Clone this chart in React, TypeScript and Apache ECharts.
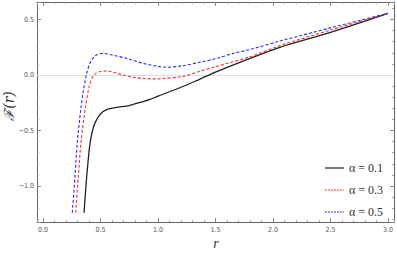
import React, { useEffect, useRef } from "react";
import * as echarts from "echarts";

const rA01 = [0.357, 0.38, 0.409, 0.437, 0.46, 0.485, 0.52, 0.57, 0.65, 0.75, 0.85, 0.93, 1.0, 1.2, 1.365, 1.51, 1.8, 2.06, 2.5, 3.0];
const fA01 = [-1.24, -0.916, -0.615, -0.475, -0.415, -0.37, -0.33, -0.305, -0.29, -0.275, -0.245, -0.22, -0.19, -0.11, -0.036, 0.03, 0.15, 0.25, 0.385, 0.556];

const rA03 = [0.284, 0.307, 0.33, 0.365, 0.40, 0.425, 0.46, 0.50, 0.539, 0.6, 0.68, 0.77, 0.872, 0.95, 1.017, 1.22, 1.365, 1.51, 1.8, 2.06, 2.5, 3.0];
const fA03 = [-1.24, -0.916, -0.615, -0.315, -0.11, -0.03, 0.015, 0.032, 0.036, 0.028, 0.005, -0.018, -0.03, -0.035, -0.033, -0.012, 0.035, 0.078, 0.165, 0.265, 0.405, 0.556];

const rA05 = [0.255, 0.278, 0.298, 0.328, 0.35, 0.38, 0.41, 0.445, 0.48, 0.524, 0.6, 0.728, 0.872, 1.0, 1.08, 1.22, 1.365, 1.51, 1.655, 1.8, 2.06, 2.5, 3.0];
const fA05 = [-1.24, -0.916, -0.615, -0.315, -0.15, 0.015, 0.11, 0.165, 0.188, 0.195, 0.18, 0.15, 0.105, 0.078, 0.07, 0.085, 0.115, 0.15, 0.195, 0.23, 0.306, 0.425, 0.556];

const legendNames = ["α = 0.1", "α = 0.3", "α = 0.5"];

const zip = (xs: number[], ys: number[]) => xs.map((x, i) => [x, ys[i]]);

const tickFont = {
  fontFamily: "DejaVu Sans Condensed, DejaVu Sans",
  fontSize: 7,
  color: "#555555",
};

export default function App() {
  const ref = useRef<HTMLDivElement>(null);
  useEffect(() => {
    if (!ref.current) return;
    const chart = echarts.init(ref.current, null, { renderer: "svg" });
    const axisLine = { show: true, onZero: false, lineStyle: { color: "#666", width: 1 } };
    const axisTick = { show: true, inside: true, length: 4, lineStyle: { color: "#888" } };
    const minorTick = { show: true, splitNumber: 5, length: 2, lineStyle: { color: "#aaa" } };
    const fmt = (v: number) => v.toFixed(1).replace("-", "−");
    chart.setOption({
      animation: false,
      grid: { left: 37, right: 3, top: 2, bottom: 33 },
      legend: {
        orient: "vertical",
        right: 9,
        top: 157,
        itemWidth: 19,
        itemHeight: 11,
        itemGap: 10,
        data: [
          { name: legendNames[0], lineStyle: { color: "#7a7a7a", width: 2 } },
          { name: legendNames[1], lineStyle: { color: "#ff2a2a", width: 1, type: [2, 1] } },
          { name: legendNames[2], lineStyle: { color: "#2a2aff", width: 1, type: [2, 1] } },
        ],
        itemStyle: { opacity: 0 },
        textStyle: {
          fontFamily: "Liberation Serif, DejaVu Serif, serif",
          fontSize: 12,
          color: "#333",
        },
      },
      xAxis: [
        {
          type: "value",
          min: -0.052,
          max: 3.052,
          splitNumber: 6,
          position: "bottom",
          axisLine,
          axisTick,
          minorTick,
          splitLine: { show: false },
          axisLabel: { ...tickFont, margin: 4, showMinLabel: false, showMaxLabel: false, formatter: fmt },
        },
        {
          type: "value",
          min: -0.052,
          max: 3.052,
          splitNumber: 6,
          position: "top",
          axisLine,
          axisTick,
          minorTick,
          splitLine: { show: false },
          axisLabel: { show: false },
        },
      ],
      yAxis: [
        {
          type: "value",
          min: -1.324,
          max: 0.658,
          splitNumber: 4,
          position: "left",
          axisLine,
          axisTick,
          minorTick,
          splitLine: { show: false },
          axisLabel: { ...tickFont, margin: 3, showMinLabel: false, showMaxLabel: false, formatter: fmt },
        },
        {
          type: "value",
          min: -1.324,
          max: 0.658,
          splitNumber: 4,
          position: "right",
          axisLine,
          axisTick,
          minorTick,
          splitLine: { show: false },
          axisLabel: { show: false },
        },
      ],
      series: [
        {
          name: legendNames[0],
          type: "line",
          data: zip(rA01, fA01),
          showSymbol: false,
          symbol: "none",
          smooth: 0.3,
          z: 3,
          lineStyle: { color: "#222", width: 1.3 },
          itemStyle: { color: "#777" },
          markLine: {
            silent: true,
            symbol: "none",
            label: { show: false },
            lineStyle: { color: "#ddd", width: 1, type: "solid" },
            data: [{ yAxis: 0 }],
            z: 1,
          },
        },
        {
          name: legendNames[1],
          type: "line",
          data: zip(rA03, fA03),
          showSymbol: false,
          symbol: "none",
          smooth: 0.3,
          z: 4,
          lineStyle: { color: "#ff2a2a", width: 1.1, type: [3, 2] },
          itemStyle: { color: "#ff2a2a" },
        },
        {
          name: legendNames[2],
          type: "line",
          data: zip(rA05, fA05),
          showSymbol: false,
          symbol: "none",
          smooth: 0.3,
          z: 5,
          lineStyle: { color: "#2a2aff", width: 1.1, type: [3, 2] },
          itemStyle: { color: "#2a2aff" },
        },
      ],
      graphic: [
        {
          type: "text",
          x: 9,
          y: 106,
          rotation: Math.PI / 2,
          style: {
            text: "ℱ(r)",
            fontFamily: "DejaVu Serif, serif",
            fontStyle: "italic",
            fontSize: 14,
            fill: "#333",
            align: "center",
            verticalAlign: "middle",
          },
        },
        {
          type: "text",
          x: 216,
          y: 243,
          style: {
            text: "r",
            fontFamily: "Liberation Serif, DejaVu Serif, serif",
            fontStyle: "italic",
            fontSize: 14,
            fill: "#333",
            align: "center",
            verticalAlign: "middle",
          },
        },
      ],
    });
    return () => chart.dispose();
  }, []);
  return <div ref={ref} style={{ width: 397, height: 255, position: "absolute", left: 0, top: 0 }} />;
}
